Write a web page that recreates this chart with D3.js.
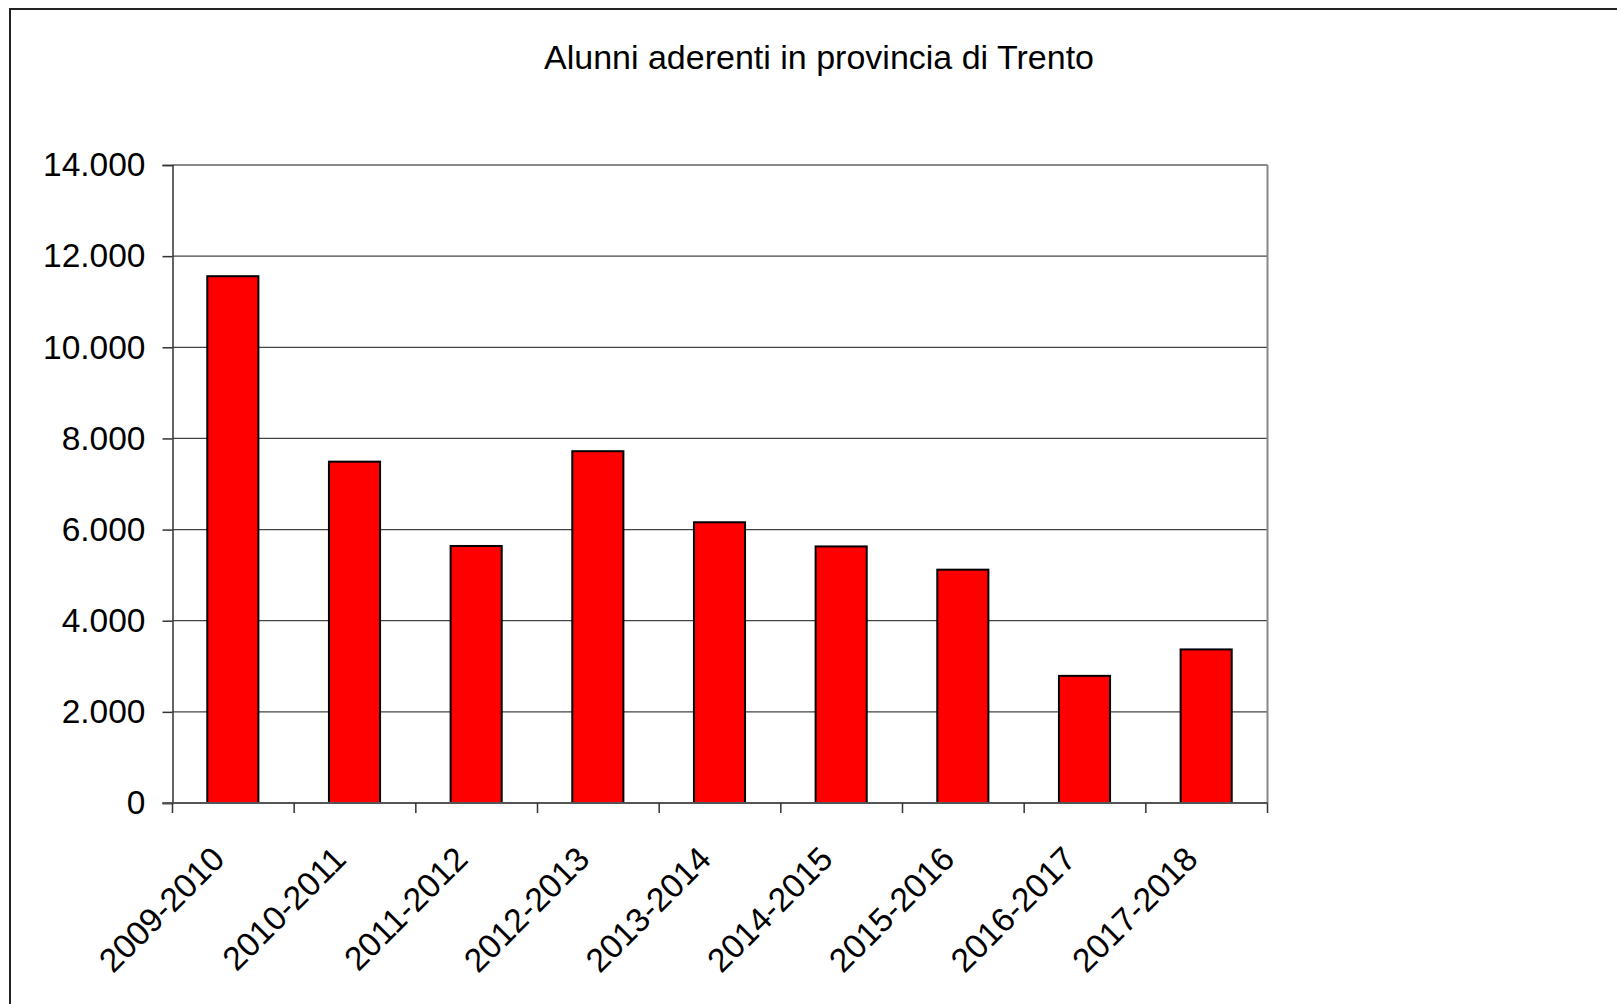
<!DOCTYPE html>
<html>
<head>
<meta charset="utf-8">
<script src="https://cdn.jsdelivr.net/npm/d3@7"></script>
<style>
  html, body { margin: 0; padding: 0; background: #fff; }
  svg { display: block; }
  text { font-family: "Liberation Sans", Arial, sans-serif; fill: #000; }
</style>
</head>
<body>
<svg id="chart" width="1617" height="1004"></svg>
<script>
const titleText = "Alunni aderenti in provincia di Trento";
const categories = ["2009-2010", "2010-2011", "2011-2012", "2012-2013", "2013-2014", "2014-2015", "2015-2016", "2016-2017", "2017-2018"];
const values = [11560, 7490, 5640, 7720, 6160, 5630, 5120, 2790, 3370];
const yTicks = [0, 2000, 4000, 6000, 8000, 10000, 12000, 14000];
const yTickLabels = ["0", "2.000", "4.000", "6.000", "8.000", "10.000", "12.000", "14.000"];

const svg = d3.select("#chart");
const W = 1617, H = 1004;

// outer frame
svg.append("rect")
  .attr("x", 10).attr("y", 9)
  .attr("width", W + 20).attr("height", H + 20)
  .attr("fill", "#fff").attr("stroke", "#222").attr("stroke-width", 2);

const plot = { left: 172.5, right: 1267.5, top: 165, bottom: 803 };

const x = d3.scaleBand().domain(categories).range([plot.left, plot.right]).padding(0);
const y = d3.scaleLinear().domain([0, 14000]).range([plot.bottom, plot.top]);

// title
svg.append("text")
  .attr("x", 819).attr("y", 69)
  .attr("text-anchor", "middle")
  .attr("font-size", 34)
  .text(titleText);

// gridlines
svg.append("g").selectAll("line")
  .data(yTicks.filter(d => d > 0 && d < 14000))
  .join("line")
  .attr("x1", plot.left).attr("x2", plot.right)
  .attr("y1", d => y(d)).attr("y2", d => y(d))
  .attr("stroke", "#444").attr("stroke-width", 1.2);

// plot border top & right (gray)
svg.append("line")
  .attr("x1", plot.left).attr("x2", plot.right)
  .attr("y1", y(14000)).attr("y2", y(14000))
  .attr("stroke", "#888").attr("stroke-width", 2);
svg.append("line")
  .attr("x1", plot.right).attr("x2", plot.right)
  .attr("y1", plot.top).attr("y2", plot.bottom)
  .attr("stroke", "#888").attr("stroke-width", 2);

// y axis
const yAxis = d3.axisLeft(y)
  .tickValues(yTicks)
  .tickFormat((d, i) => yTickLabels[i])
  .tickSize(10)
  .tickPadding(17);
const gy = svg.append("g")
  .attr("transform", `translate(${plot.left},0)`)
  .call(yAxis);
gy.select(".domain").attr("stroke", "#333").attr("stroke-width", 1.5);
gy.selectAll(".tick line").attr("stroke", "#333").attr("stroke-width", 1.5);
gy.selectAll(".tick text")
  .attr("font-size", 33.5)
  .attr("font-family", "'Liberation Sans', Arial, sans-serif")
  .attr("fill", "#000");

// bars
const barW = x.bandwidth() * 0.42;
svg.append("g").selectAll("rect")
  .data(values)
  .join("rect")
  .attr("x", (d, i) => x(categories[i]) + x.bandwidth() / 2 - barW / 2 - 0.5)
  .attr("y", d => y(d))
  .attr("width", barW)
  .attr("height", d => y(0) - y(d))
  .attr("fill", "#ff0000")
  .attr("stroke", "#000")
  .attr("stroke-width", 2);

// x axis
svg.append("line")
  .attr("x1", plot.left - 10).attr("x2", plot.right)
  .attr("y1", plot.bottom).attr("y2", plot.bottom)
  .attr("stroke", "#555").attr("stroke-width", 2);

const tickPos = categories.map(c => x(c)).concat([plot.right]);
svg.append("g").selectAll("line")
  .data(tickPos)
  .join("line")
  .attr("x1", d => d).attr("x2", d => d)
  .attr("y1", plot.bottom).attr("y2", plot.bottom + 10)
  .attr("stroke", "#333").attr("stroke-width", 1.5);

svg.append("g").selectAll("text")
  .data(categories)
  .join("text")
  .attr("transform", d => `translate(${x(d) + x.bandwidth() / 2 - 7},${plot.bottom + 58}) rotate(-45)`)
  .attr("text-anchor", "end")
  .attr("font-size", 33.5)
  .text(d => d);
</script>
</body>
</html>
